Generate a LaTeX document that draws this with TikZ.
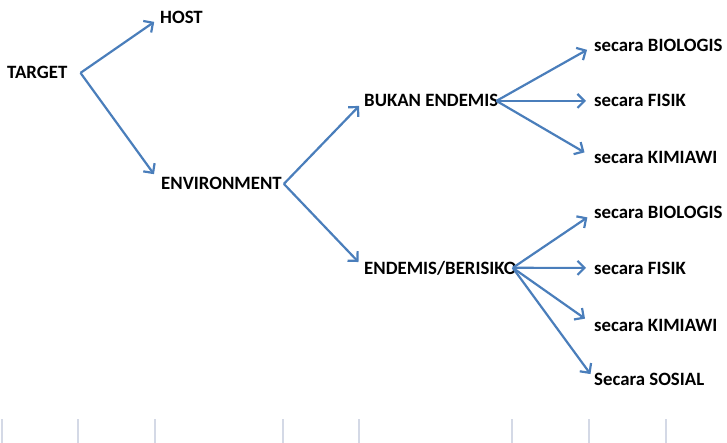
\documentclass[tikz,border=0pt]{standalone}
\usepackage{fontspec}
\setmainfont{Carlito}
\usetikzlibrary{arrows.meta}
\definecolor{linkblue}{RGB}{74,126,187}
\definecolor{gridgray}{RGB}{212,217,230}

\begin{document}
\begin{tikzpicture}[x=1pt,y=-1pt,
		lbl/.style={anchor=base west,inner sep=0pt,font=\fontsize{18.8}{22}\selectfont\bfseries},
		link/.style={draw=linkblue,line width=2.2pt,-{Straight Barb[length=7pt,width=14pt,line width=2.2pt]}}]
		\useasboundingbox (0,0) rectangle (727,443);
		\node[lbl] (target) at (7,79) {TARGET};
		\node[lbl] (host) at (160,24) {HOST};
		\node[lbl] (env) at (161,190) {ENVIRONMENT};
		\node[lbl] (bukan) at (364,107) {BUKAN ENDEMIS};
		\node[lbl] (endemis) at (364,274) {ENDEMIS/BERISIKO};
		\node[lbl] (bio1) at (594,52) {secara BIOLOGIS};
		\node[lbl] (fis1) at (594,107) {secara FISIK};
		\node[lbl] (kim1) at (594,164) {secara KIMIAWI};
		\node[lbl] (bio2) at (594,219) {secara BIOLOGIS};
		\node[lbl] (fis2) at (594,274) {secara FISIK};
		\node[lbl] (kim2) at (594,331) {secara KIMIAWI};
		\node[lbl] (sos2) at (594,385) {Secara SOSIAL};
%		first split
		\draw[link,shorten >=7pt] ([xshift=13pt]target.east) -- (host.west);
		\draw[link,shorten >=12pt] ([xshift=13pt]target.east) -- (env.west);
		\draw[link,shorten >=7pt] ([xshift=2pt]env.east) -- (bukan.west);
		\draw[link,shorten >=8pt] ([xshift=2pt]env.east) -- (endemis.west);
%		ways of control
		\foreach \to/\gap in {bio1/8,fis1/8,kim1/11}{
			\draw[link,shorten >=\gap pt] ([xshift=-2pt]bukan.east) -- (\to.west);
		};
		\foreach \to/\gap in {bio2/8,fis2/8,kim2/11,sos2/6}{
			\draw[link,shorten >=\gap pt] ([xshift=-4pt]endemis.east) -- (\to.west);
		};
		\foreach \x in {2,78,155,283,359,512,589,666}{
			\draw[gridgray,line width=1.2pt] (\x,419) -- (\x,443);
		};
	\end{tikzpicture}
\end{document}
